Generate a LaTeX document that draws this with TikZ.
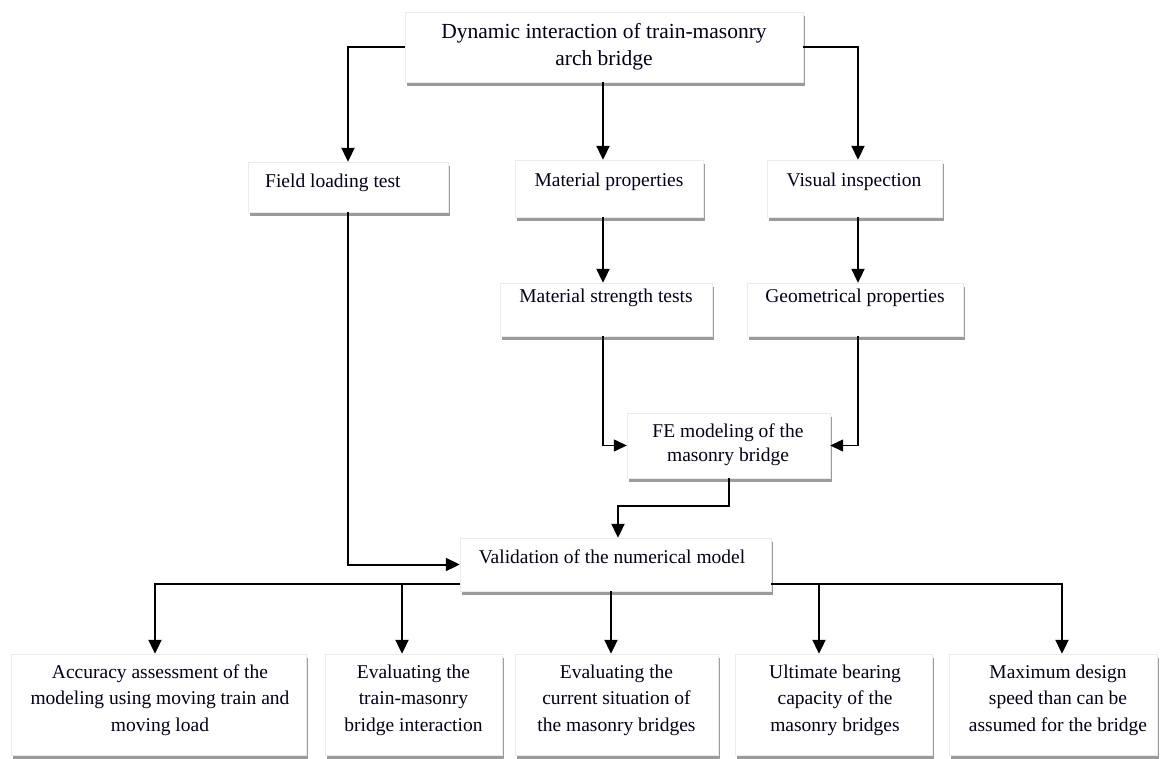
\documentclass[tikz,border=0pt]{standalone}
\usepackage{fontspec}
\setmainfont{Liberation Serif}
\usetikzlibrary{arrows.meta,shadows,calc}
\begin{document}
\begin{tikzpicture}[x=1pt,y=-1pt,
  box/.style={draw=black!8, line width=0.4pt, fill=white, inner sep=0pt,
    drop shadow={shadow xshift=1.5pt, shadow yshift=-4pt, fill=black!60, opacity=0.65}},
  txt/.style={font=\fontsize{19.5}{25}\selectfont, align=center, inner sep=0pt, text=black!90!blue},
  toptxt/.style={font=\fontsize{21.5}{27}\selectfont, align=center, inner sep=0pt, text=black!90!blue},
  arr/.style={line width=2pt, -{Triangle[width=13pt,length=14pt]}},
  thinarr/.style={line width=1.3pt, -{Triangle[width=12pt,length=13pt]}},
]
\useasboundingbox (0,0) rectangle (1165,758);
\fill[white] (0,0) rectangle (1165,758);

% boxes
\node[box, minimum width=398pt, minimum height=70pt] (top) at (604,47) {};
\node[box, minimum width=200pt, minimum height=50pt] (field) at (348,187) {};
\node[box, minimum width=188pt, minimum height=57pt] (mp) at (609,188.5) {};
\node[box, minimum width=175pt, minimum height=57pt] (vis) at (854.5,188.5) {};
\node[box, minimum width=212pt, minimum height=53pt] (mst) at (606,309.5) {};
\node[box, minimum width=216pt, minimum height=53pt] (geo) at (855,309.5) {};
\node[box, minimum width=203pt, minimum height=65pt] (fe) at (728.5,445.5) {};
\node[box, minimum width=311pt, minimum height=53pt] (val) at (615.5,564.5) {};
\node[box, minimum width=295pt, minimum height=101pt] (b1) at (158.5,704.5) {};
\node[box, minimum width=177pt, minimum height=101pt] (b2) at (413.5,704.5) {};
\node[box, minimum width=203pt, minimum height=101pt] (b3) at (616.5,704.5) {};
\node[box, minimum width=197pt, minimum height=101pt] (b4) at (833.5,704.5) {};
\node[box, minimum width=208pt, minimum height=101pt] (b5) at (1053,704.5) {};

% texts
\node[toptxt] (toptext) at (604,46.5) {Dynamic interaction of train-masonry\\arch bridge};
\node[txt, anchor=west] (fieldtext) at (265,183) {Field loading test};
\node[txt] (mptext) at (609,182) {Material properties};
\node[txt] (vistext) at (854,182) {Visual inspection};
\node[txt] (msttext) at (606,298) {Material strength tests};
\node[txt] (geotext) at (855,298) {Geometrical properties};
\node[txt, font=\fontsize{19.5}{24}\selectfont] (fetext) at (728,445) {FE modeling of the\\masonry bridge};
\node[txt] (valtext) at (612,557) {Validation of the numerical model};
\node[txt, font=\fontsize{19.5}{26.5}\selectfont] (b1text) at (160,700) {Accuracy assessment of the\\modeling using moving train and\\moving load};
\node[txt, font=\fontsize{19.5}{26.5}\selectfont] (b2text) at (413.5,700) {Evaluating the\\train-masonry\\bridge interaction};
\node[txt, font=\fontsize{19.5}{26.5}\selectfont] (b3text) at (616.5,700) {Evaluating the\\current situation of\\the masonry bridges};
\node[txt, font=\fontsize{19.5}{26.5}\selectfont] (b4text) at (835,700) {Ultimate bearing\\capacity of the\\masonry bridges};
\node[txt, font=\fontsize{19.5}{26.5}\selectfont] (b5text) at (1058,700) {Maximum design\\speed than can be\\assumed for the bridge};

% helper coordinates
\coordinate (colL) at (603,0);
\coordinate (colR) at (858,0);
\coordinate (fv) at (618,506);
\coordinate (busL) at (155,584);
\coordinate (busR) at (1062,584);
\coordinate (d2) at (402,584);
\coordinate (d3) at (611,0);
\coordinate (d4) at (819,584);

% connectors
\draw[arr] (top.west) -| (field.north);
\draw[arr] (top.east) -| (colR |- vis.north);
\draw[arr] (top.south -| colL) -- (mp.north -| colL);
\draw[arr] (mp.south -| colL) -- (mst.north -| colL);
\draw[arr] (vis.south -| colR) -- (geo.north -| colR);
\draw[thinarr] (mst.south -| colL) |- (fe.west);
\draw[thinarr] (geo.south -| colR) |- (fe.east);
\draw[arr] (fe.south) |- (fv) -- (fv |- val.north);
\draw[arr] (field.south) |- (val.west);
\draw[arr] (val.west |- busL) -- (busL) -- (busL |- b1.north);
\draw[arr] (val.east |- busR) -- (busR) -- (busR |- b5.north);
\draw[arr] (d2) -- (d2 |- b2.north);
\draw[arr] (val.south -| d3) -- (b3.north -| d3);
\draw[arr] (d4) -- (d4 |- b4.north);
\end{tikzpicture}
\end{document}
